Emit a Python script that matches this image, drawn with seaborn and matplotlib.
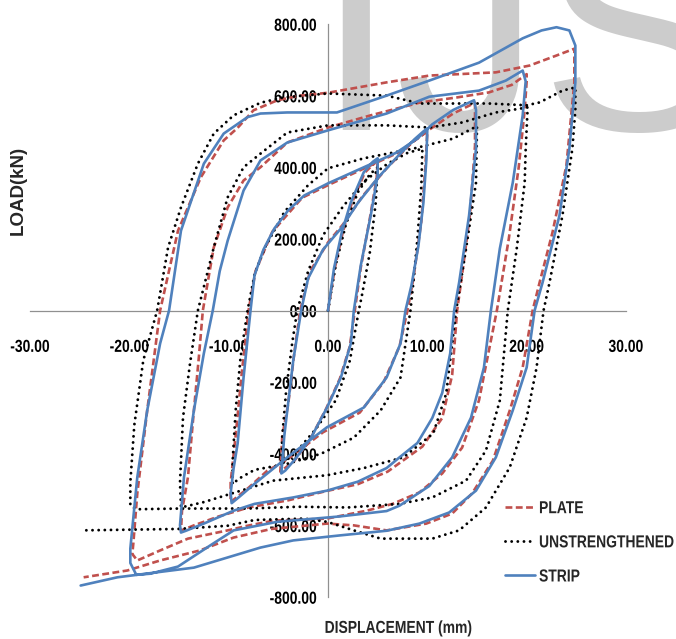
import matplotlib
matplotlib.use("Agg")
import matplotlib.pyplot as plt
import numpy as np
import pandas as pd
import seaborn as sns
from matplotlib.patheffects import AbstractPathEffect
from matplotlib.transforms import Affine2D

# hysteresis traces, (displacement mm, load kN) in load order
plate_pts = [
    (0, 0), (0.7, 120), (1.5, 220), (2.4, 300), (3.7, 385), (5.0, 420),
    (4.9, 370), (4.2, 255), (3.3, 120), (2.7, 0), (2.2, -100), (1.2, -190), (-0.2, -275),
    (-1.8, -360), (-3.4, -420), (-4.8, -450),
    (-4.6, -350), (-4.0, -260), (-3.4, -120), (-2.8, 0), (-1.8, 110), (0, 190), (1.5, 240),
    (3.5, 320), (6.0, 400), (8.5, 470), (10.0, 500),
    (9.8, 400), (9.4, 250), (8.6, 90), (8.0, 0), (7.2, -100), (5.6, -200), (3.2, -285),
    (-0.5, -340), (-4.3, -420), (-6.1, -447), (-8.0, -495), (-9.8, -535),
    (-9.8, -480), (-9.3, -350), (-8.7, -180), (-8.0, 0), (-7.3, 110), (-5.6, 220), (-2.6, 315),
    (0, 350), (3.5, 395), (7.0, 440), (10.2, 505), (12.6, 550), (14.8, 580),
    (14.8, 460), (14.3, 270), (13.5, 100), (13.0, 0), (12.5, -180), (11.5, -300), (9.5, -380),
    (6.0, -450), (3.0, -485), (-0.3, -505), (-4.0, -530), (-8.0, -550), (-11.0, -575),
    (-13.5, -600), (-14.8, -615),
    (-14.7, -560), (-14.1, -466), (-13.5, -279), (-13.0, -130), (-12.6, 0), (-11.5, 176),
    (-10.1, 288), (-8.5, 363), (-6.8, 400), (-4.1, 469), (0, 511), (4.3, 545), (9.3, 581),
    (13.0, 595), (16.2, 609), (18.5, 630), (20.0, 660),
    (20.0, 640), (19.8, 560), (19.2, 400), (18.2, 200), (17.0, 0), (16.2, -112), (15.2, -251),
    (13.5, -383), (11.5, -455), (9.2, -508), (6.5, -540), (3.9, -559), (-0.1, -581),
    (-5.5, -587), (-8.1, -601), (-10.1, -614), (-14.1, -637), (-16.9, -670), (-19.2, -698),
    (-19.7, -680),
    (-19.6, -651), (-19.2, -511), (-18.2, -279), (-17.5, -130), (-16.9, 0), (-15.1, 223),
    (-12.8, 372), (-10.5, 475), (-9.1, 510), (-7.5, 559), (-5.1, 587), (-2.8, 600), (0, 608),
    (5.9, 637), (10.2, 656), (16.9, 665), (20.3, 684), (23.0, 712), (24.8, 731),
    (24.8, 637), (24.0, 405), (22.6, 218), (21.3, 78), (20.6, 0), (19.6, -159), (18.3, -279),
    (16.6, -419), (14.5, -511), (12.5, -567), (9.9, -595), (5.9, -614), (2.6, -600),
    (-0.1, -595), (-5.7, -610), (-9.5, -634), (-12.9, -670), (-16.9, -698), (-20.2, -726),
    (-24.6, -745),
]

unstrengthened_pts = [
    (0, 0), (0.8, 130), (1.8, 240), (3.0, 330), (4.2, 380), (5.0, 400),
    (4.8, 300), (4.2, 160), (3.4, 40), (3.1, 0), (2.2, -140), (0.8, -250), (-1.2, -330),
    (-3.2, -395), (-4.7, -430),
    (-4.6, -350), (-4.2, -220), (-3.6, -90), (-3.1, 0), (-2.0, 110), (-0.5, 210), (1.5, 290),
    (3.6, 360), (6.0, 410), (8.0, 440), (9.5, 452),
    (9.4, 350), (9.0, 200), (8.6, 80), (8.3, 0), (7.3, -187), (5.3, -279), (2.6, -355),
    (-0.7, -400), (-4.1, -428), (-7.4, -445), (-9.0, -470), (-9.6, -485),
    (-9.6, -420), (-9.3, -280), (-8.8, -130), (-8.1, 0), (-7.4, 100), (-6.4, 173), (-4.4, 275),
    (-2.0, 350), (0, 397), (3.6, 425), (8.6, 452), (12.6, 480), (15.0, 515),
    (14.9, 357), (13.9, 173), (12.9, 0), (11.9, -232), (10.6, -343), (7.6, -410), (3.6, -440),
    (-0.1, -460), (-5.5, -475), (-9.0, -505), (-12.5, -535), (-14.8, -550),
    (-14.9, -480), (-14.6, -300), (-13.9, -150), (-13.1, 0), (-11.5, 176), (-10.1, 316),
    (-8.5, 400), (-6.8, 438), (-4.1, 497), (0, 517), (5.9, 517), (10.2, 511), (13.5, 525),
    (16.9, 553), (20.1, 567),
    (19.9, 450), (19.8, 357), (19.0, 173), (18.1, 0), (17.3, -251), (15.9, -391), (13.9, -475),
    (10.5, -522), (7.2, -540), (2.0, -550), (-3.0, -548), (-8.1, -553), (-15.0, -553),
    (-19.3, -555), (-19.9, -545),
    (-19.9, -480), (-19.5, -320), (-18.6, -140), (-17.2, 0), (-16.1, 176), (-14.8, 288),
    (-13.1, 410), (-11.5, 494), (-9.5, 545), (-6.8, 580), (-4.5, 595), (0, 606), (5.9, 600),
    (9.3, 578), (16.2, 578), (20.0, 573), (21.3, 581), (23.6, 614), (24.9, 623),
    (24.9, 560), (24.6, 452), (23.6, 265), (22.3, 78), (21.7, 0), (21.0, -159), (20.0, -299),
    (18.3, -438), (15.9, -550), (13.2, -614), (10.5, -637), (7.2, -637), (5.3, -637),
    (2.6, -614), (-0.1, -590), (-2.4, -581), (-7.4, -585), (-10.1, -601), (-15.1, -610),
    (-24.9, -614),
]

strip_pts = [
    (0, 0), (0.6, 117), (1.4, 220), (2.3, 302), (3.6, 386), (4.5, 415), (5.0, 425),
    (5.0, 377), (4.3, 265), (3.3, 126), (2.6, 0), (2.3, -92), (1.3, -187), (-0.1, -271),
    (-1.7, -355), (-3.3, -415), (-4.3, -447), (-4.7, -455),
    (-4.6, -420), (-4.4, -350), (-4.1, -279), (-3.5, -140), (-2.7, 0), (-2.0, 90), (-0.5, 170),
    (1.3, 229), (3.0, 300), (5.0, 370), (7.0, 430), (8.7, 478), (9.6, 500), (10.0, 508),
    (9.9, 420), (9.6, 300), (9.1, 180), (8.4, 70), (7.8, 0), (7.3, -92), (5.9, -187),
    (3.6, -271), (-0.1, -326), (-4.1, -410), (-7.4, -484), (-9.0, -522), (-9.7, -538),
    (-9.8, -510), (-9.5, -440), (-9.1, -372), (-8.5, -187), (-7.8, 0), (-7.4, 98), (-6.5, 170),
    (-5.4, 229), (-4.0, 280), (-2.4, 321), (0, 355), (3.6, 400), (6.9, 441), (9.0, 480),
    (10.5, 520), (12.6, 560), (14.0, 578), (14.7, 587),
    (14.9, 560), (14.9, 452), (14.2, 265), (13.2, 78), (12.7, 0), (12.3, -120), (11.5, -230),
    (10.5, -300), (9.0, -370), (7.2, -410), (5.9, -440), (3.0, -478), (-0.1, -503),
    (-3.5, -522), (-7.4, -540), (-9.5, -559), (-12.5, -595), (-14.3, -615), (-14.8, -620),
    (-14.9, -600), (-14.5, -466), (-13.5, -279), (-12.5, -120), (-11.6, 0), (-10.9, 110),
    (-10.1, 195), (-8.5, 335), (-6.8, 419), (-4.1, 469), (0, 503), (5.9, 550), (10.2, 597),
    (15.2, 614), (17.9, 642), (19.6, 670),
    (19.9, 640), (19.6, 545), (18.6, 357), (17.3, 173), (16.4, 0), (15.7, -159), (14.4, -299),
    (12.5, -410), (10.2, -490), (7.2, -545), (5.9, -560), (1.2, -575), (-5.1, -590),
    (-9.5, -614), (-11.8, -655), (-15.1, -715), (-17.9, -735), (-19.3, -738), (-19.9, -705),
    (-19.9, -665), (-19.2, -466), (-18.2, -279), (-16.9, -92), (-16.0, 0), (-14.8, 223),
    (-12.5, 410), (-10.5, 494), (-8.1, 540), (-6.8, 550), (-4.1, 553), (0.9, 553), (5.9, 600),
    (10.2, 642), (15.2, 692), (19.6, 760), (21.5, 782), (23.0, 791), (24.3, 782), (24.9, 740),
    (24.9, 637), (24.3, 452), (23.3, 265), (21.6, 78), (20.8, 0), (20.0, -159), (18.6, -279),
    (16.9, -410), (14.9, -503), (12.2, -564), (9.2, -595), (5.9, -615), (1.2, -628),
    (-3.5, -642), (-6.8, -662), (-13.5, -718), (-21.2, -745), (-24.9, -768),
]

series_names = ["PLATE", "UNSTRENGTHENED", "STRIP"]
series_colors = ["#C0504D", "#000000", "#4F81BD"]
x_ticks = [-30, -20, -10, 0, 10, 20, 30]
y_ticks = [-800, -600, -400, -200, 0, 200, 400, 600, 800]


class Tall(AbstractPathEffect):
    """Stretch glyphs vertically about their middle: a stand-in for a narrow font."""

    def __init__(self, sy=1.25):
        super().__init__()
        self.sy = sy

    def draw_path(self, renderer, gc, tpath, affine, rgbFace=None):
        ext = tpath.get_extents()
        cy = (ext.y0 + ext.y1) / 2
        stretch = Affine2D().translate(0, -cy).scale(1, self.sy).translate(0, cy)
        renderer.draw_path(gc, tpath, stretch + affine, rgbFace)


sns.set_theme(style="white")
plt.rcParams["font.family"] = ["Liberation Sans", "DejaVu Sans"]

fig = plt.figure(figsize=(6.76, 6.39), dpi=100, facecolor="white")
ax = fig.add_axes([30 / 676, 42 / 639, 596 / 676, 573 / 639])
ax.set_facecolor("none")

# faint journal watermark behind everything
fig.text(315 / 676, 1 - 130 / 639, "IJSER", fontsize=209, color="#cccccc",
         va="baseline", ha="left", zorder=-1)

frames = []
for name, pts in zip(series_names, [plate_pts, unstrengthened_pts, strip_pts]):
    arr = np.array(pts, dtype=float)
    frames.append(pd.DataFrame({"disp": arr[:, 0], "load": arr[:, 1], "series": name}))

styles = {
    "PLATE": dict(linestyle=(0, (2.6, 1.3)), linewidth=1.9),
    "UNSTRENGTHENED": dict(linestyle=(0, (0.01, 2.1)), linewidth=2.1,
                           dash_capstyle="round"),
    "STRIP": dict(linestyle="-", linewidth=1.9),
}

handles = []
for df, color in zip(frames, series_colors):
    name = df["series"].iloc[0]
    sns.lineplot(data=df, x="disp", y="load", sort=False, estimator=None, color=color,
                 ax=ax, zorder=3, **styles[name])
    handles.append(ax.lines[-1])

ax.set_xlim(-30, 30)
ax.set_ylim(-800, 800)
ax.set_xticks(x_ticks)
ax.set_yticks(y_ticks)
ax.set_xticklabels([f"{v:.2f}" for v in x_ticks])
ax.set_yticklabels([f"{v:.2f}" for v in y_ticks])

for side in ["top", "right"]:
    ax.spines[side].set_visible(False)
for side in ["left", "bottom"]:
    ax.spines[side].set_position(("data", 0))
    ax.spines[side].set_color("#909090")
    ax.spines[side].set_linewidth(0.9)

narrow_size = 10
ax.tick_params(axis="both", length=0, labelsize=narrow_size, labelcolor="black")
ax.tick_params(axis="x", pad=21)
ax.tick_params(axis="y", pad=8)
for tick in ax.xaxis.get_major_ticks() + ax.yaxis.get_major_ticks():
    tick.label1.set_fontweight("bold")
    tick.label1.set_path_effects([Tall(1.25)])

ax.set_xlabel("DISPLACEMENT (mm)", fontsize=narrow_size, fontweight="bold")
ax.xaxis.label.set_va("center")
ax.xaxis.label.set_path_effects([Tall(1.25)])
ax.xaxis.set_label_coords((398 - 30) / 596, (11 - 42) / 573)

ax.set_ylabel("LOAD(kN)", fontsize=13.5, fontweight="bold")
ax.yaxis.label.set_va("center")
ax.yaxis.set_label_coords((18 - 30) / 596, (639 - 190 - 42) / 573)

leg = ax.legend(handles, series_names, loc="upper left",
                bbox_to_anchor=(505 / 676, 1 - 501 / 639),
                bbox_transform=fig.transFigure, frameon=False, borderpad=0, borderaxespad=0,
                handlelength=2.16, handletextpad=0.29, labelspacing=1.45,
                prop={"weight": "bold", "size": narrow_size})
for txt in leg.get_texts():
    txt.set_path_effects([Tall(1.25)])

fig.savefig("out.png", dpi=100, facecolor="white")
